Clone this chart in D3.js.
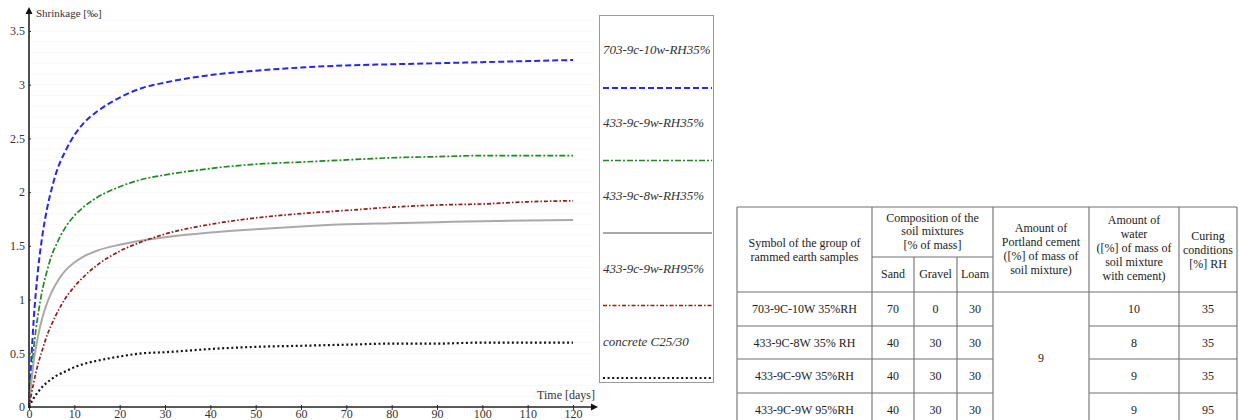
<!DOCTYPE html>
<html><head><meta charset="utf-8">
<script src="https://cdn.jsdelivr.net/npm/d3@7"></script>
<style>
html,body{margin:0;padding:0;background:#fff;}
svg{display:block;}
</style></head>
<body>
<svg id="c" width="1239" height="420"></svg>
<script>
// ---------- DATA ----------
const days = [0,1,2,3,4,5,6,8,10,12,15,20,25,30,40,50,60,70,80,90,100,110,120];
const s703_10w_35 = [0,0.79,1.28,1.61,1.85,2.03,2.18,2.38,2.53,2.64,2.75,2.88,2.97,3.02,3.09,3.13,3.16,3.18,3.19,3.20,3.21,3.22,3.23];
const s433_9w_35  = [0,0.53,0.86,1.10,1.27,1.41,1.51,1.67,1.78,1.86,1.95,2.05,2.12,2.16,2.22,2.26,2.28,2.30,2.32,2.33,2.34,2.34,2.34];
const s433_8w_35  = [0,0.41,0.66,0.84,0.97,1.07,1.15,1.27,1.345,1.40,1.455,1.51,1.55,1.58,1.625,1.655,1.68,1.70,1.71,1.72,1.73,1.735,1.74];
const s433_9w_95  = [0,0.22,0.40,0.54,0.67,0.77,0.86,1.01,1.12,1.21,1.32,1.45,1.54,1.61,1.70,1.76,1.80,1.83,1.86,1.88,1.89,1.91,1.92];
const sConcrete   = [0,0.08,0.14,0.19,0.23,0.26,0.29,0.33,0.37,0.40,0.43,0.47,0.50,0.51,0.54,0.56,0.57,0.58,0.59,0.59,0.60,0.60,0.60];
const legendLabels = ["703-9c-10w-RH35%","433-9c-9w-RH35%","433-9c-8w-RH35%","433-9c-9w-RH95%","concrete C25/30"];
const yTicks = [0,0.5,1,1.5,2,2.5,3,3.5];
const xTicks = [0,10,20,30,40,50,60,70,80,90,100,110,120];
const yTitle = "Shrinkage [‰]";
const xTitle = "Time [days]";

const tblSymbols = ["703-9C-10W 35%RH","433-9C-8W 35% RH","433-9C-9W 35%RH","433-9C-9W 95%RH"];
const tblSand   = [70,40,40,40];
const tblGravel = [0,30,30,30];
const tblLoam   = [30,30,30,30];
const tblCement = 9;
const tblWater  = [10,8,9,9];
const tblRH     = [35,35,35,95];

// ---------- CHART ----------
const svg = d3.select("#c");
const x = d3.scaleLinear().domain([0,120]).range([29,573]);
const y = d3.scaleLinear().domain([0,3.5]).range([407,31]);
const serif = "Liberation Serif, DejaVu Serif, serif";

// faint grid
const grid = d3.range(0.1,3.65,0.1);
svg.append("g").selectAll("line").data(grid).join("line")
  .attr("x1",30).attr("x2",595).attr("y1",d=>y(d)).attr("y2",d=>y(d))
  .attr("stroke","#f8f8f8").attr("stroke-width",1);

const series = [
  {v:s703_10w_35, color:"#2626f0", dash:"6,3", w:2},
  {v:s433_9w_35,  color:"#1f8a1f", dash:"6,2,2,2", w:1.7},
  {v:s433_8w_35,  color:"#a9a9a9", dash:null, w:2},
  {v:s433_9w_95,  color:"#8e1c1c", dash:"4,2,1.5,2", w:1.7},
  {v:sConcrete,   color:"#111111", dash:"2,2.6", w:2.2}
];
const line = d3.line().x((d,i)=>x(days[i])).y(d=>y(d)).curve(d3.curveMonotoneX);
series.forEach(s=>{
  svg.append("path").datum(s.v).attr("d",line).attr("fill","none")
    .attr("stroke",s.color).attr("stroke-width",s.w)
    .attr("stroke-dasharray",s.dash);
});

// axes
const yAx = svg.append("g").attr("transform","translate(29,0)")
  .call(d3.axisLeft(y).tickValues(yTicks).tickSize(3).tickFormat(d3.format("")));
yAx.select(".domain").remove();
yAx.selectAll(".tick line").attr("x2",2).attr("stroke","#333");
yAx.selectAll(".tick text").style("font-family",serif).style("font-size","12px").attr("fill","#333").attr("x",-4);

const xAx = svg.append("g").attr("transform","translate(0,407)")
  .call(d3.axisBottom(x).tickValues(xTicks).tickSize(3));
xAx.select(".domain").remove();
xAx.selectAll(".tick line").attr("y1",-2).attr("stroke","#333");
xAx.selectAll(".tick text").style("font-family",serif).style("font-size","12px").attr("fill","#333")
  .attr("y",11).attr("dy",null);

// axis lines with arrows
svg.append("line").attr("x1",29).attr("x2",29).attr("y1",408).attr("y2",13).attr("stroke","#222").attr("stroke-width",1.6);
svg.append("path").attr("d","M29,7 L25.5,14 L32.5,14 Z").attr("fill","#111");
svg.append("line").attr("x1",28).attr("x2",592).attr("y1",407).attr("y2",407).attr("stroke","#222").attr("stroke-width",1.6);
svg.append("path").attr("d","M598,407 L591,403.5 L591,410.5 Z").attr("fill","#111");

svg.append("text").attr("x",36).attr("y",17).text(yTitle)
  .style("font-family",serif).style("font-size","11px").attr("fill","#333");
svg.append("text").attr("x",595).attr("y",399).attr("text-anchor","end").text(xTitle)
  .style("font-family",serif).style("font-size","12px").attr("fill","#333");

// legend
svg.append("rect").attr("x",599.5).attr("y",15.5).attr("width",114).attr("height",367)
  .attr("fill","none").attr("stroke","#999").attr("stroke-width",1);
legendLabels.forEach((lab,i)=>{
  const ty = 54 + i*73, ly = 88 + i*72.5;
  svg.append("text").attr("x",603).attr("y",ty).text(lab)
    .style("font-family",serif).style("font-style","italic").style("font-size","13px").attr("fill","#333");
  svg.append("line").attr("x1",603).attr("x2",712).attr("y1",ly).attr("y2",ly)
    .attr("stroke",series[i].color).attr("stroke-width",series[i].w)
    .attr("stroke-dasharray",series[i].dash);
});

// ---------- TABLE ----------
const T = svg.append("g");
const tf = (xx,yy,t)=>T.append("text").attr("x",xx).attr("y",yy+4).attr("text-anchor","middle")
  .style("font-family",serif).style("font-size","12px").attr("fill","#222").text(t);
const L = (x1,y1,x2,y2)=>T.append("line").attr("x1",x1).attr("y1",y1).attr("x2",x2).attr("y2",y2)
  .attr("stroke","#707070").attr("stroke-width",1.1);

const cx = [737,872,914,957,993,1089,1179,1237];
L(737,207,1237,207);
cx.forEach((c,i)=>{
  const top = (i===2||i===3) ? 257 : 207;
  L(c,top,c,427);
});
L(872,257,993,257);
L(737,292,1237,292);
[326,359,393].forEach(r=>{ L(737,r,993,r); L(1089,r,1237,r); });

// header text
tf(804.5,243,"Symbol of the group of"); tf(804.5,257,"rammed earth samples");
tf(932.5,218,"Composition of the"); tf(932.5,231,"soil mixtures"); tf(932.5,245,"[% of mass]");
tf(893,274,"Sand"); tf(935.5,274,"Gravel"); tf(975,274,"Loam");
["Amount of","Portland cement","([%] of mass of","soil mixture)"].forEach((t,i)=>tf(1041,228+i*14,t));
["Amount of","water","([%] of mass of","soil mixture","with cement)"].forEach((t,i)=>tf(1134,220+i*14,t));
["Curing","conditions","[%] RH"].forEach((t,i)=>tf(1208,236+i*14,t));

const rowC = [309,342.5,376,410];
tblSymbols.forEach((s,i)=>{
  tf(804.5,rowC[i],s);
  tf(893,rowC[i],tblSand[i]);
  tf(935.5,rowC[i],tblGravel[i]);
  tf(975,rowC[i],tblLoam[i]);
  tf(1134,rowC[i],tblWater[i]);
  tf(1208,rowC[i],tblRH[i]);
});
tf(1041,358,tblCement);
</script>
</body></html>
